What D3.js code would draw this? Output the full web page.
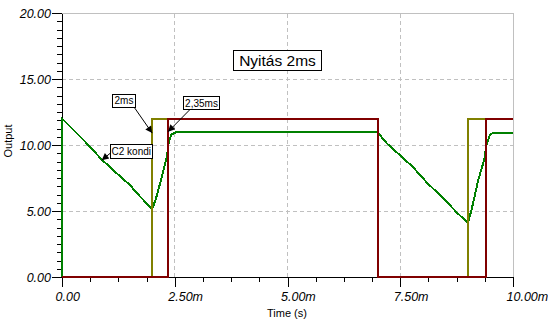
<!DOCTYPE html>
<html lang="en">
<head>
<meta charset="UTF-8">
<title>Nyitás 2ms</title>
<script src="https://d3js.org/d3.v7.min.js"></script>
<style>
    body { margin: 0; background: #fff; }
    svg { font-family: "Liberation Sans", Arial, sans-serif; }
    .axis path, .axis line { stroke: #000; shape-rendering: crispEdges; }
    .axis text { font-style: italic; font-size: 12.5px; fill: #000; }
    .grid line { stroke: #c0c0c0; stroke-dasharray: 4,3; shape-rendering: crispEdges; }
    .trace { fill: none; stroke-width: 2px; shape-rendering: crispEdges; }
    .note rect { fill: #fff; stroke: #000; shape-rendering: crispEdges; }
    .note text { font-size: 10px; }
</style>
</head>
<body>
<svg id="chart"></svg>
<script>
    // time in ms, output in V
    var oliveT = [0, 2.0, 7.0, 9.0, 10];
    var oliveV = [0, 12, 0, 12, 12];
    var redT = [0, 2.35, 7.0, 9.4, 10];
    var redV = [0, 12, 0, 12, 12];
    var greenT = [0, 0, 0.22, 0.5, 0.88, 1.2, 1.51, 1.73, 2.0, 2.08, 2.2, 2.33, 2.37, 2.43, 2.52,
        7.0, 7.2, 7.49, 7.79, 8.09, 8.45, 8.75, 9.0, 9.08, 9.23, 9.36, 9.42, 9.49, 9.56, 10];
    var greenV = [0, 12, 11.26, 10.3, 8.9, 7.9, 6.95, 6.1, 5.15, 5.9, 7.4, 9.2, 10.3, 10.8, 10.96,
        10.96, 10.13, 9.24, 8.3, 7.15, 5.98, 4.9, 4.1, 5.07, 7.35, 8.86, 10.13, 10.76, 10.93, 10.93];
    var xTicks = [0, 2.5, 5, 7.5, 10];
    var xTickLabels = ["0.00", "2.50m", "5.00m", "7.50m", "10.00m"];
    var yTicks = [0, 5, 10, 15, 20];
    var yTickLabels = ["0.00", "5.00", "10.00", "15.00", "20.00"];

    var W = 548, H = 326;
    var svg = d3.select("#chart").attr("width", W).attr("height", H);

    var x = d3.scaleLinear().domain([0, 10]).range([62, 513]);
    var y = d3.scaleLinear().domain([0, 20]).range([277, 13]);

    // grid
    var grid = svg.append("g").attr("class", "grid");
    grid.selectAll(".gy").data([5, 10, 15]).enter().append("line")
        .attr("x1", x(0)).attr("x2", x(10))
        .attr("y1", function(d) { return y(d); }).attr("y2", function(d) { return y(d); });
    grid.selectAll(".gx").data([2.5, 5, 7.5]).enter().append("line")
        .attr("y1", y(0)).attr("y2", y(20))
        .attr("x1", function(d) { return x(d); }).attr("x2", function(d) { return x(d); });
    svg.append("path")
        .attr("d", "M" + x(0) + "," + y(20) + "H" + x(10) + "V" + y(0))
        .attr("fill", "none").attr("stroke", "#c0c0c0").attr("shape-rendering", "crispEdges");

    // minor ticks
    svg.append("g").attr("class", "axis")
        .attr("transform", "translate(" + x(0) + ",0)")
        .call(d3.axisLeft(y).tickValues(d3.range(0, 20.01, 0.625)).tickSize(5).tickFormat(""))
        .select(".domain").remove();
    svg.append("g").attr("class", "axis")
        .attr("transform", "translate(0," + y(0) + ")")
        .call(d3.axisBottom(x).tickValues(d3.range(0, 10.01, 0.625)).tickSize(5).tickFormat(""))
        .select(".domain").remove();

    // main axes
    var yAxis = svg.append("g").attr("class", "axis")
        .attr("transform", "translate(" + x(0) + ",0)")
        .call(d3.axisLeft(y).tickValues(yTicks).tickSizeInner(10).tickSizeOuter(0)
            .tickFormat(function(d, i) { return yTickLabels[i]; }));
    yAxis.selectAll("text").attr("x", -11).attr("dy", "0.35em");

    var xAxis = svg.append("g").attr("class", "axis")
        .attr("transform", "translate(0," + y(0) + ")")
        .call(d3.axisBottom(x).tickValues(xTicks).tickSizeInner(10).tickSizeOuter(0)
            .tickFormat(function(d, i) { return xTickLabels[i]; }));
    xAxis.selectAll("text").attr("text-anchor", "start").attr("x", -7).attr("y", 24).attr("dy", 0);

    // axis titles
    svg.append("text").attr("x", 287).attr("y", 317).attr("text-anchor", "middle")
        .style("font-size", "11px").text("Time (s)");
    svg.append("text").attr("transform", "translate(12,141) rotate(-90)").attr("text-anchor", "middle")
        .style("font-size", "11px").text("Output");

    // traces
    var pts = function(t, v) { return t.map(function(d, i) { return [d, v[i]]; }); };
    var step = d3.line().x(function(d) { return x(d[0]); }).y(function(d) { return y(d[1]); })
        .curve(d3.curveStepAfter);
    var lin = d3.line().x(function(d) { return x(d[0]); }).y(function(d) { return y(d[1]); });

    svg.append("path").attr("class", "trace").attr("stroke", "#008000").attr("d", lin(pts(greenT, greenV)));
    svg.append("path").attr("class", "trace").attr("stroke", "#808000").attr("d", step(pts(oliveT, oliveV)));
    svg.append("path").attr("class", "trace").attr("stroke", "#800000").attr("d", step(pts(redT, redV)));

    // annotations
    svg.append("defs").append("marker")
        .attr("id", "arr").attr("viewBox", "0 0 10 10").attr("refX", 10).attr("refY", 5)
        .attr("markerWidth", 10).attr("markerHeight", 7).attr("markerUnits", "userSpaceOnUse")
        .attr("orient", "auto")
        .append("path").attr("d", "M0,0L10,5L0,10z").attr("fill", "#000");

    var notes = [
        { text: "2ms", box: [112.5, 94.5, 23, 12.5], from: [134, 107], to: [2.0, 10.9] },
        { text: "2,35ms", box: [183.5, 96.5, 36, 13], from: [190, 109.5], to: [2.35, 11.0] },
        { text: "C2 kondi", box: [110.5, 144.5, 41.5, 13.5], from: [110.5, 153], to: [0.88, 8.85] }
    ];
    notes.forEach(function(n) {
        var g = svg.append("g").attr("class", "note");
        g.append("line").attr("x1", n.from[0]).attr("y1", n.from[1])
            .attr("x2", x(n.to[0])).attr("y2", y(n.to[1]))
            .attr("stroke", "#000").attr("marker-end", "url(#arr)");
        g.append("rect").attr("x", n.box[0]).attr("y", n.box[1]).attr("width", n.box[2]).attr("height", n.box[3]);
        g.append("text").attr("x", n.box[0] + n.box[2] / 2).attr("y", n.box[1] + n.box[3] - 3)
            .attr("text-anchor", "middle").text(n.text);
    });

    // title box
    var tg = svg.append("g").attr("class", "note");
    tg.append("rect").attr("x", 233.5).attr("y", 50.5).attr("width", 88).attr("height", 20);
    tg.append("text").attr("x", 277.5).attr("y", 66).attr("text-anchor", "middle")
        .style("font-size", "15.5px").text("Nyitás 2ms");
</script>
</body>
</html>
